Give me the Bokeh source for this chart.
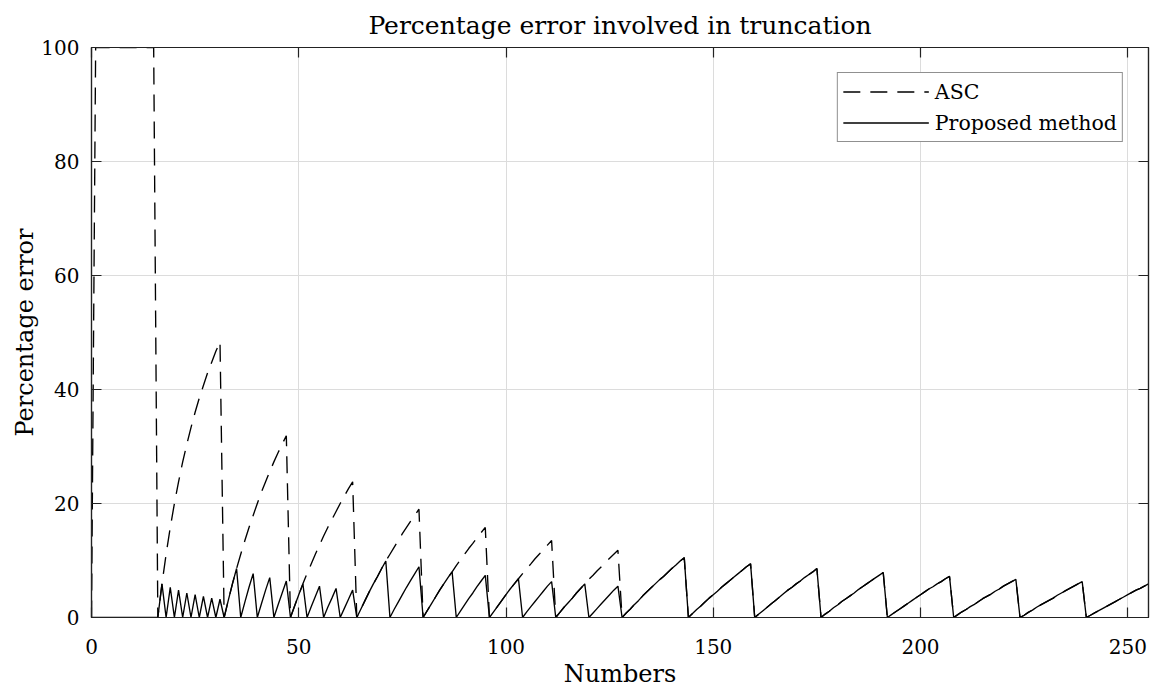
from bokeh.plotting import figure
from bokeh.models import Range1d, LinearAxis, FixedTicker, Legend, LegendItem, ColumnDataSource
from bokeh.embed import file_html
from bokeh.resources import INLINE

# ---- data ----
numbers = list(range(256))

asc_error = [
    0, 100, 100, 100, 100, 100, 100, 100, 100, 100, 100, 100, 100, 100, 100, 100,
    0, 5.9, 11.1, 15.8, 20.0, 23.8, 27.3, 30.4, 33.3, 36.0, 38.5, 40.7, 42.9, 44.8, 46.7, 48.4,
    0, 3.0, 5.9, 8.6, 11.1, 13.5, 15.8, 17.9, 20.0, 22.0, 23.8, 25.6, 27.3, 28.9, 30.4, 31.9,
    0, 2.0, 4.0, 5.9, 7.7, 9.4, 11.1, 12.7, 14.3, 15.8, 17.2, 18.6, 20.0, 21.3, 22.6, 23.8,
    0, 1.5, 3.0, 4.5, 5.9, 7.2, 8.6, 9.9, 11.1, 12.3, 13.5, 14.7, 15.8, 16.9, 17.9, 19.0,
    0, 1.2, 2.4, 3.6, 4.8, 5.9, 7.0, 8.0, 9.1, 10.1, 11.1, 12.1, 13.0, 14.0, 14.9, 15.8,
    0, 1.0, 2.0, 3.0, 4.0, 5.0, 5.9, 6.8, 7.7, 8.6, 9.4, 10.3, 11.1, 11.9, 12.7, 13.5,
    0, 0.9, 1.8, 2.6, 3.4, 4.3, 5.1, 5.9, 6.7, 7.4, 8.2, 8.9, 9.7, 10.4, 11.1, 11.8,
    0, 0.8, 1.5, 2.3, 3.0, 3.8, 4.5, 5.2, 5.9, 6.6, 7.2, 7.9, 8.6, 9.2, 9.9, 10.5,
    0, 0.7, 1.4, 2.0, 2.7, 3.4, 4.0, 4.6, 5.3, 5.9, 6.5, 7.1, 7.7, 8.3, 8.9, 9.4,
    0, 0.6, 1.2, 1.8, 2.4, 3.0, 3.6, 4.2, 4.8, 5.3, 5.9, 6.4, 7.0, 7.5, 8.0, 8.6,
    0, 0.6, 1.1, 1.7, 2.2, 2.8, 3.3, 3.8, 4.3, 4.9, 5.4, 5.9, 6.4, 6.9, 7.4, 7.9,
    0, 0.5, 1.0, 1.5, 2.0, 2.5, 3.0, 3.5, 4.0, 4.5, 5.0, 5.4, 5.9, 6.3, 6.8, 7.2,
    0, 0.5, 1.0, 1.4, 1.9, 2.3, 2.8, 3.3, 3.7, 4.1, 4.6, 5.0, 5.5, 5.9, 6.3, 6.7,
    0, 0.4, 0.9, 1.3, 1.8, 2.2, 2.6, 3.0, 3.4, 3.9, 4.3, 4.7, 5.1, 5.5, 5.9, 6.3,
    0, 0.4, 0.8, 1.2, 1.6, 2.0, 2.4, 2.8, 3.2, 3.6, 4.0, 4.4, 4.8, 5.1, 5.5, 5.9,
]

proposed_error_0_127 = [
    0, 0, 0, 0, 0, 0, 0, 0, 0, 0, 0, 0, 0, 0, 0, 0,
    0, 5.9, 0, 5.3, 0, 4.8, 0, 4.3, 0, 4.0, 0, 3.7, 0, 3.4, 0, 3.2,
    0, 3.0, 5.9, 8.6, 0, 2.7, 5.3, 7.7, 0, 2.4, 4.8, 7.0, 0, 2.2, 4.3, 6.4,
    0, 2.0, 4.0, 5.9, 0, 1.9, 3.7, 5.5, 0, 1.8, 3.4, 5.1, 0, 1.6, 3.2, 4.8,
    0, 1.5, 3.0, 4.5, 5.9, 7.2, 8.6, 9.9, 0, 1.4, 2.7, 4.0, 5.3, 6.5, 7.7, 8.9,
    0, 1.2, 2.4, 3.6, 4.8, 5.9, 7.0, 8.0, 0, 1.1, 2.2, 3.3, 4.3, 5.4, 6.4, 7.4,
    0, 1.0, 2.0, 3.0, 4.0, 5.0, 5.9, 6.8, 0, 1.0, 1.9, 2.8, 3.7, 4.6, 5.5, 6.3,
    0, 0.9, 1.8, 2.6, 3.4, 4.3, 5.1, 5.9, 0, 0.8, 1.6, 2.4, 3.2, 4.0, 4.8, 5.5,
]
# from 128 on, the proposed method coincides with ASC
proposed_error = proposed_error_0_127 + asc_error[128:]

x_ticks = [0, 50, 100, 150, 200, 250]
y_ticks = [0, 20, 40, 60, 80, 100]

series_labels = ["ASC", "Proposed method"]
title_text = "Percentage error involved in truncation"
x_label = "Numbers"
y_label = "Percentage error"

FONT = "DejaVu Serif"

src = ColumnDataSource(dict(x=numbers, asc=asc_error, prop=proposed_error))

p = figure(width=1155, height=694,
           x_range=Range1d(0, 255), y_range=Range1d(0, 100),
           output_backend="svg", toolbar_location=None,
           min_border_left=91, min_border_right=7,
           min_border_top=47, min_border_bottom=77)

p.background_fill_color = "white"
p.border_fill_color = "white"
p.outline_line_color = "#222222"
p.outline_line_width = 1.2

p.title.text = title_text
p.title.text_font = FONT
p.title.text_font_size = "25px"
p.title.text_font_style = "normal"
p.title.text_color = "black"
p.title.align = "center"
p.title.standoff = 16

# main axes
for ax, ticks in ((p.xaxis[0], x_ticks), (p.yaxis[0], y_ticks)):
    ax.ticker = FixedTicker(ticks=ticks)
    ax.major_tick_in = 10
    ax.major_tick_out = 0
    ax.minor_tick_line_color = None
    ax.major_tick_line_color = "#222222"
    ax.major_tick_line_width = 1.2
    ax.axis_line_color = "#222222"
    ax.axis_line_width = 1.2
    ax.major_label_text_font = FONT
    ax.major_label_text_font_size = "20px"
    ax.major_label_text_color = "black"
    ax.axis_label_text_font = FONT
    ax.axis_label_text_font_size = "24px"
    ax.axis_label_text_font_style = "normal"
    ax.axis_label_text_color = "black"

p.xaxis[0].axis_label = x_label
p.xaxis[0].major_label_standoff = 21
p.xaxis[0].axis_label_standoff = 3
p.yaxis[0].axis_label = y_label
p.yaxis[0].major_label_standoff = 12
p.yaxis[0].axis_label_standoff = -1

# mirrored ticks on top and right (labels not drawn)
top_ax = LinearAxis(ticker=FixedTicker(ticks=x_ticks))
right_ax = LinearAxis(ticker=FixedTicker(ticks=y_ticks))
for ax in (top_ax, right_ax):
    ax.major_tick_in = 10
    ax.major_tick_out = 0
    ax.minor_tick_line_color = None
    ax.major_tick_line_color = "#222222"
    ax.major_tick_line_width = 1.2
    ax.axis_line_color = "#222222"
    ax.axis_line_width = 1.2
    ax.major_label_text_color = None
    ax.major_label_text_font_size = "1px"
    ax.major_label_standoff = 0
p.add_layout(top_ax, "above")
p.add_layout(right_ax, "right")

p.xgrid.ticker = FixedTicker(ticks=x_ticks)
p.ygrid.ticker = FixedTicker(ticks=y_ticks)
p.grid.grid_line_color = "#dcdcdc"
p.grid.grid_line_width = 1

r_asc = p.line("x", "asc", source=src, line_color="black", line_width=1.35, line_dash="17 10")
r_prop = p.line("x", "prop", source=src, line_color="black", line_width=1.35)

legend = Legend(items=[LegendItem(label=series_labels[0], renderers=[r_asc]),
                       LegendItem(label=series_labels[1], renderers=[r_prop])],
                location="top_right")
legend.label_text_font = FONT
legend.label_text_font_size = "20.5px"
legend.label_text_color = "black"
legend.glyph_width = 86
legend.glyph_height = 27
legend.label_height = 27
legend.label_standoff = 6
legend.spacing = 4
legend.padding = 5
legend.margin = 25
legend.border_line_color = "#222222"
legend.border_line_width = 1.2
legend.background_fill_alpha = 1
p.add_layout(legend)

open("out.html", "w").write(file_html(p, INLINE))
